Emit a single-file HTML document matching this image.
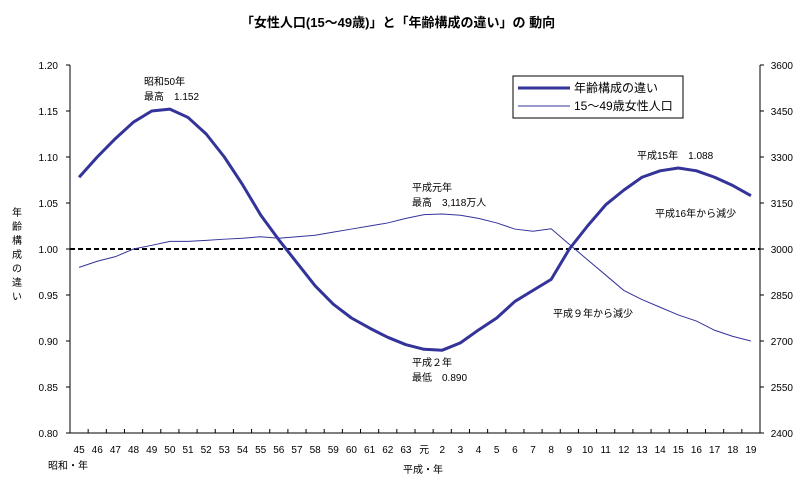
<!DOCTYPE html>
<html><head><meta charset="utf-8"><style>
body{margin:0;background:#fff}
svg{display:block;font-family:"Liberation Sans","Noto Sans CJK JP",sans-serif}
</style></head><body>
<svg id="c" width="797" height="489" viewBox="0 0 797 489">
<text x="398" y="27" text-anchor="middle" font-size="13" font-weight="bold">「女性人口(15～49歳)」と「年齢構成の違い」の 動向</text>
<g id="axes"></g>
<g id="marks"></g>
<g font-size="10">
<text x="144" y="85">昭和50年</text><text x="144" y="100">最高　1.152</text>
<text x="412" y="191">平成元年</text><text x="412" y="206">最高　3,118万人</text>
<text x="412" y="366">平成２年</text><text x="412" y="381">最低　0.890</text>
<text x="637" y="159">平成15年　1.088</text>
<text x="655" y="217">平成16年から減少</text>
<text x="553" y="317">平成９年から減少</text>
<text x="48" y="469">昭和・年</text>
<text x="403" y="473">平成・年</text>
</g>
<g font-size="10">
<text x="17" y="216" text-anchor="middle">年</text><text x="17" y="230" text-anchor="middle">齢</text>
<text x="17" y="244" text-anchor="middle">構</text><text x="17" y="258" text-anchor="middle">成</text>
<text x="17" y="272" text-anchor="middle">の</text><text x="17" y="286" text-anchor="middle">違</text>
<text x="17" y="300" text-anchor="middle">い</text>
</g>
<g>
<rect x="513" y="76" width="170" height="42" fill="#fff" stroke="#000"/>
<line x1="518" y1="88" x2="570" y2="88" stroke="#333399" stroke-width="3"/>
<text x="574" y="92" font-size="12">年齢構成の違い</text>
<line x1="518" y1="106" x2="570" y2="106" stroke="#333399" stroke-width="1"/>
<text x="574" y="110" font-size="12">15～49歳女性人口</text>
</g>
</svg>
<script>
const categories=["45","46","47","48","49","50","51","52","53","54","55","56","57","58","59","60","61","62","63","元","2","3","4","5","6","7","8","9","10","11","12","13","14","15","16","17","18","19"];
const ageDiff=[1.078,1.10,1.12,1.138,1.15,1.152,1.143,1.125,1.10,1.07,1.037,1.01,0.985,0.96,0.94,0.925,0.914,0.904,0.896,0.891,0.890,0.898,0.912,0.925,0.943,0.955,0.967,1.0,1.025,1.048,1.064,1.078,1.085,1.088,1.085,1.078,1.069,1.058];
const population=[2940,2960,2975,3000,3012,3025,3025,3028,3032,3035,3040,3035,3040,3045,3055,3065,3075,3085,3100,3112,3114,3110,3100,3085,3065,3058,3066,3015,2965,2915,2865,2835,2810,2785,2765,2735,2715,2700];
const leftTicks=["0.80","0.85","0.90","0.95","1.00","1.05","1.10","1.15","1.20"];
const rightTicks=["2400","2550","2700","2850","3000","3150","3300","3450","3600"];
const NS="http://www.w3.org/2000/svg";
const L=70,R=760,T=65,B=433;
const step=(R-L)/categories.length;
const xs=i=>L+(i+0.5)*step;
const yl=v=>B-(v-0.8)/0.4*(B-T);
const yr=v=>B-(v-2400)/1200*(B-T);
function mk(tag,attrs,parent){const e=document.createElementNS(NS,tag);for(const k in attrs)e.setAttribute(k,attrs[k]);parent.appendChild(e);return e;}
const ax=document.getElementById('axes'),mg=document.getElementById('marks');
let e;
e=mk('line',{x1:L,y1:T,x2:L,y2:B,stroke:'#000'},ax);


e=mk('line',{x1:R,y1:T,x2:R,y2:B,stroke:'#000'},ax);


e=mk('line',{x1:L,y1:B,x2:R,y2:B,stroke:'#000'},ax);


leftTicks.forEach((t,i)=>{const y=yl(parseFloat(t));
 mk('line',{x1:L-4,y1:y,x2:L,y2:y,stroke:'#000'},ax);
 e=mk('text',{x:L-12,y:y+4,'text-anchor':'end','font-size':10},ax);e.textContent=t;
 
 });
rightTicks.forEach((t,i)=>{const y=yr(parseFloat(t));
 mk('line',{x1:R,y1:y,x2:R+4,y2:y,stroke:'#000'},ax);
 e=mk('text',{x:R+33,y:y+4,'text-anchor':'end','font-size':10},ax);e.textContent=t;
 
 });
categories.forEach((c,i)=>{const x=L+(i+1)*step;
 mk('line',{x1:x,y1:B-4,x2:x,y2:B,stroke:'#000'},ax);
 e=mk('text',{x:xs(i),y:B+20,'text-anchor':'middle','font-size':10},ax);e.textContent=c;
 
 });
e=mk('line',{x1:L,y1:yl(1),x2:R,y2:yl(1),stroke:'#000','stroke-width':2,'stroke-dasharray':'5,3'},mg);


e=mk('polyline',{points:population.map((v,i)=>xs(i)+','+yr(v)).join(' '),fill:'none',stroke:'#333399','stroke-width':1},mg);


e=mk('polyline',{points:ageDiff.map((v,i)=>xs(i)+','+yl(v)).join(' '),fill:'none',stroke:'#333399','stroke-width':3,'stroke-linejoin':'round'},mg);


</script>
</body></html>
